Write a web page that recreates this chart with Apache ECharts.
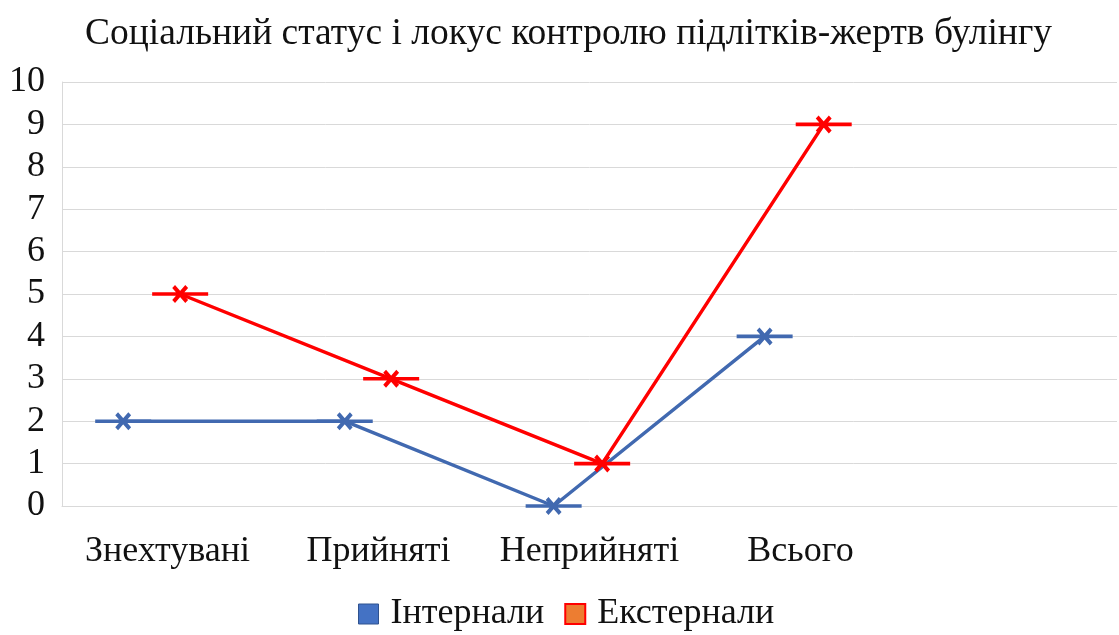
<!DOCTYPE html>
<html>
<head>
<meta charset="utf-8">
<script src="https://cdn.jsdelivr.net/npm/echarts@6/dist/echarts.min.js"></script>
<style>
  html, body { margin: 0; padding: 0; background: #fff; }
  #chart { width: 1119px; height: 635px; }
</style>
</head>
<body>
<div id="chart"></div>
<script>
const titleText = 'Соціальний статус і локус контролю підлітків-жертв булінгу';
const categories = ['Знехтувані', 'Прийняті', 'Неприйняті', 'Всього', ''];
const seriesNames = ['Інтернали', 'Екстернали'];
// x positions are in category units (0..5)
const internalX = [0.29, 1.34, 2.33, 3.33];
const internalY = [2, 2, 0, 4];
const externalX = [0.56, 1.56, 2.56, 3.61];
const externalY = [5, 3, 1, 9];

const FONT = '"Liberation Serif", "Times New Roman", serif';
// x marker with a horizontal dash through it
const markPath = 'path://M0,7.2 L60,7.2 L60,10.8 L0,10.8 Z ' +
  'M21.5,3 L24.5,0 L38.5,15 L35.5,18 Z M35.5,0 L38.5,3 L24.5,18 L21.5,15 Z';

function pairs(xs, ys) {
  return xs.map((x, i) => [x, ys[i]]);
}

const chart = echarts.init(document.getElementById('chart'));
chart.setOption({
  animation: false,
  title: {
    text: titleText,
    left: 80,
    top: 10,
    textStyle: { fontFamily: FONT, fontSize: 37.5, fontWeight: 'normal', color: '#111' }
  },
  grid: { left: 62, right: 2, top: 82, bottom: 129 },
  legend: {
    top: 591,
    left: 353,
    icon: 'rect',
    itemWidth: 20,
    itemHeight: 20,
    itemGap: 20,
    textStyle: { fontFamily: FONT, fontSize: 36, color: '#111', padding: [0, 0, 0, 7] },
    data: [
      { name: seriesNames[0], itemStyle: { color: '#4472C4', borderColor: '#2F528F', borderWidth: 1 } },
      { name: seriesNames[1], itemStyle: { color: '#ED7D31', borderColor: '#FF0000', borderWidth: 2 } }
    ]
  },
  xAxis: [
    {
      type: 'value', min: 0, max: 5,
      show: false
    },
    {
      type: 'category',
      data: categories,
      position: 'bottom',
      boundaryGap: true,
      axisLine: { show: true, lineStyle: { color: '#d9d9d9', width: 1 } },
      axisTick: { show: false },
      axisLabel: { interval: 0, margin: 28, fontFamily: FONT, fontSize: 36, color: '#111' },
      splitLine: { show: false }
    }
  ],
  yAxis: {
    type: 'value', min: 0, max: 10, interval: 1,
    axisLine: { show: true, lineStyle: { color: '#d9d9d9', width: 1 } },
    axisTick: { show: false },
    axisLabel: { margin: 17, fontFamily: FONT, fontSize: 36, color: '#111' },
    splitLine: { lineStyle: { color: '#d9d9d9', width: 1 } }
  },
  series: [
    {
      name: seriesNames[0],
      type: 'line',
      xAxisIndex: 0,
      data: pairs(internalX, internalY),
      symbol: markPath,
      symbolSize: [56, 18],
      lineStyle: { color: '#4169B0', width: 3.5 },
      itemStyle: { color: '#4169B0' },
      z: 2
    },
    {
      name: seriesNames[1],
      type: 'line',
      xAxisIndex: 0,
      data: pairs(externalX, externalY),
      symbol: markPath,
      symbolSize: [56, 18],
      lineStyle: { color: '#FF0000', width: 3.5 },
      itemStyle: { color: '#FF0000' },
      z: 3
    }
  ]
});
</script>
</body>
</html>
